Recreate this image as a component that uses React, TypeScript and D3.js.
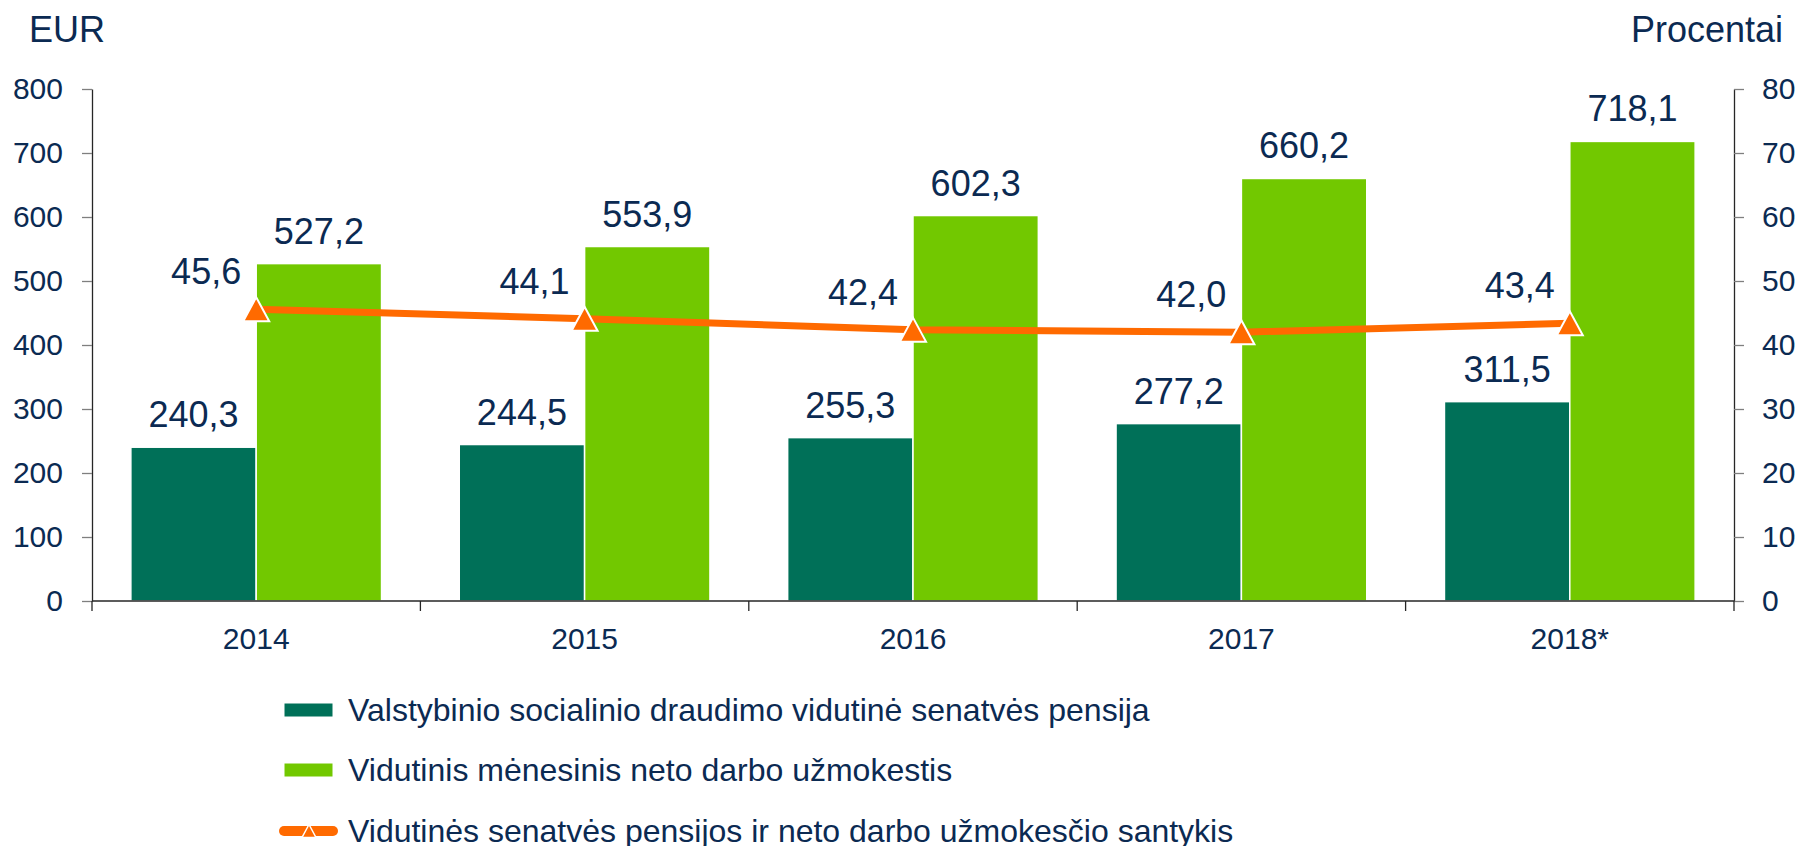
import React, { useEffect, useRef } from 'react';
import * as d3 from 'd3';

const years = ['2014', '2015', '2016', '2017', '2018*'];
const pension = [240.3, 244.5, 255.3, 277.2, 311.5];
const wage = [527.2, 553.9, 602.3, 660.2, 718.1];
const ratio = [45.6, 44.1, 42.4, 42.0, 43.4];

const legendLabels = [
  'Valstybinio socialinio draudimo vidutinė senatvės pensija',
  'Vidutinis mėnesinis neto darbo užmokestis',
  'Vidutinės senatvės pensijos ir neto darbo užmokesčio santykis',
];

const DARK = '#007058';
const LIME = '#72c800';
const ORANGE = '#ff6a00';
const TEXT = '#0b2a52';
const FONT = '"Liberation Sans", Arial, sans-serif';

const fmt = d3.formatLocale({ decimal: ',', thousands: ' ', grouping: [3], currency: ['', ''] }).format('.1f');

// triangle centred on its bounding box, like the spreadsheet marker
const triangle = (w, h) => `M0,${-h / 2}L${w / 2},${h / 2}L${-w / 2},${h / 2}Z`;

const App = () => {
  const svgRef = useRef();

  useEffect(() => {
    const width = 1801;
    const height = 846;
    const margin = { top: 89, right: 1801 - 1734, bottom: 846 - 601, left: 92 };

    d3.select(svgRef.current).selectAll('*').remove();

    const svg = d3.select(svgRef.current)
      .attr('width', width)
      .attr('height', height)
      .style('font-family', FONT);

    const x = d3.scaleBand()
      .domain(years)
      .range([margin.left, width - margin.right])
      .padding(0);

    const xSeries = d3.scaleBand()
      .domain(['pension', 'wage'])
      .range([0, x.bandwidth()])
      .paddingInner(0)
      .paddingOuter(0.31);

    const y = d3.scaleLinear()
      .domain([0, 800])
      .range([height - margin.bottom, margin.top]);

    const y2 = d3.scaleLinear()
      .domain([0, 80])
      .range([height - margin.bottom, margin.top]);

    // unit titles
    svg.append('text')
      .attr('x', 29).attr('y', 42)
      .attr('font-size', 36).attr('fill', TEXT)
      .text('EUR');

    svg.append('text')
      .attr('x', 1783).attr('y', 42)
      .attr('text-anchor', 'end')
      .attr('font-size', 36).attr('fill', TEXT)
      .text('Procentai');

    // bars
    const groups = svg.append('g')
      .selectAll('g')
      .data(years)
      .enter()
      .append('g')
      .attr('transform', d => `translate(${x(d)},0)`);

    groups.append('rect')
      .attr('x', xSeries('pension'))
      .attr('width', xSeries.bandwidth())
      .attr('y', (d, i) => y(pension[i]))
      .attr('height', (d, i) => y(0) - y(pension[i]))
      .attr('fill', DARK)
      .attr('stroke', '#ffffff')
      .attr('stroke-width', 1.5);

    groups.append('rect')
      .attr('x', xSeries('wage'))
      .attr('width', xSeries.bandwidth())
      .attr('y', (d, i) => y(wage[i]))
      .attr('height', (d, i) => y(0) - y(wage[i]))
      .attr('fill', LIME)
      .attr('stroke', '#ffffff')
      .attr('stroke-width', 1.5);

    groups.append('text')
      .attr('x', xSeries('pension') + xSeries.bandwidth() / 2)
      .attr('y', (d, i) => y(pension[i]) - 20)
      .attr('text-anchor', 'middle')
      .attr('font-size', 36).attr('fill', TEXT)
      .text((d, i) => fmt(pension[i]));

    groups.append('text')
      .attr('x', xSeries('wage') + xSeries.bandwidth() / 2)
      .attr('y', (d, i) => y(wage[i]) - 20)
      .attr('text-anchor', 'middle')
      .attr('font-size', 36).attr('fill', TEXT)
      .text((d, i) => fmt(wage[i]));

    // left axis
    const left = svg.append('g')
      .attr('transform', `translate(${margin.left},0)`)
      .call(d3.axisLeft(y).tickValues(d3.range(0, 801, 100)).tickSize(10).tickSizeOuter(0).tickPadding(19));

    // right axis
    const right = svg.append('g')
      .attr('transform', `translate(${width - margin.right},0)`)
      .call(d3.axisRight(y2).tickValues(d3.range(0, 81, 10)).tickSize(10).tickSizeOuter(0).tickPadding(18));

    [left, right].forEach(g => {
      g.select('.domain').attr('stroke', '#262626').attr('stroke-width', 1.3);
      g.selectAll('.tick line').attr('stroke', '#7f7f7f').attr('stroke-width', 1.3);
      g.selectAll('.tick text')
        .attr('font-size', 30).attr('fill', TEXT).attr('font-family', FONT);
    });

    // bottom axis: labels at centres, ticks at category edges
    const bottom = svg.append('g')
      .attr('transform', `translate(0,${y(0)})`)
      .call(d3.axisBottom(x).tickSize(0).tickPadding(27));
    bottom.select('.domain').remove();
    bottom.selectAll('.tick text')
      .attr('font-size', 30).attr('fill', TEXT).attr('font-family', FONT);

    svg.append('line')
      .attr('x1', margin.left).attr('x2', width - margin.right)
      .attr('y1', y(0)).attr('y2', y(0))
      .attr('stroke', '#262626').attr('stroke-width', 1.3);

    svg.append('g')
      .selectAll('line')
      .data(years.concat(['end']))
      .enter()
      .append('line')
      .attr('x1', (d, i) => i < years.length ? x(d) : x.range()[1])
      .attr('x2', (d, i) => i < years.length ? x(d) : x.range()[1])
      .attr('y1', y(0)).attr('y2', y(0) + 10)
      .attr('stroke', '#262626').attr('stroke-width', 1.3);

    // ratio line
    const cx = d => x(d) + x.bandwidth() / 2;
    const line = d3.line()
      .x((d, i) => cx(years[i]))
      .y(d => y2(d));

    svg.append('path')
      .datum(ratio)
      .attr('d', line)
      .attr('fill', 'none')
      .attr('stroke', ORANGE)
      .attr('stroke-width', 7)
      .attr('stroke-linejoin', 'round');

    svg.append('g')
      .selectAll('path')
      .data(ratio)
      .enter()
      .append('path')
      .attr('d', triangle(26, 24))
      .attr('transform', (d, i) => `translate(${cx(years[i])},${y2(d)})`)
      .attr('fill', ORANGE)
      .attr('stroke', '#ffffff')
      .attr('stroke-width', 2);

    svg.append('g')
      .selectAll('text')
      .data(ratio)
      .enter()
      .append('text')
      .attr('x', (d, i) => cx(years[i]) - 15)
      .attr('y', d => y2(d) - 25)
      .attr('text-anchor', 'end')
      .attr('font-size', 36).attr('fill', TEXT)
      .text(d => fmt(d));

    // legend
    const legend = svg.append('g');
    const rowY = [710, 770, 831];
    const swatchColors = [DARK, LIME];

    swatchColors.forEach((c, i) => {
      legend.append('rect')
        .attr('x', 284).attr('y', rowY[i] - 7)
        .attr('width', 49).attr('height', 14)
        .attr('fill', c)
        .attr('stroke', '#ffffff').attr('stroke-width', 1);
    });

    legend.append('line')
      .attr('x1', 284).attr('x2', 333)
      .attr('y1', rowY[2]).attr('y2', rowY[2])
      .attr('stroke', ORANGE).attr('stroke-width', 10)
      .attr('stroke-linecap', 'round');

    legend.append('path')
      .attr('d', triangle(14, 13))
      .attr('transform', `translate(309,${rowY[2]})`)
      .attr('fill', ORANGE)
      .attr('stroke', '#ffffff').attr('stroke-width', 1.5);

    legendLabels.forEach((t, i) => {
      legend.append('text')
        .attr('x', 348).attr('y', rowY[i] + 11)
        .attr('font-size', 32).attr('fill', TEXT)
        .text(t);
    });
  }, []);

  return <svg ref={svgRef} style={{ position: 'absolute', left: 0, top: 0 }}></svg>;
};

export default App;
